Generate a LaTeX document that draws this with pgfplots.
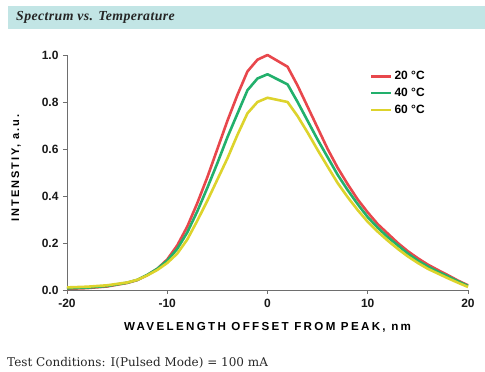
\documentclass[border=0pt]{standalone}
\usepackage{pgfplots}
\pgfplotsset{compat=1.18}
\usepackage{fontspec}
\setmainfont{Liberation Sans}
\newfontfamily\serifT{Liberation Serif}
\newfontfamily\serifD{DejaVu Serif}
\definecolor{cred}{HTML}{E8474C}
\definecolor{cgreen}{HTML}{22B06C}
\definecolor{cyellow}{HTML}{DDD32C}
\definecolor{bar}{HTML}{C2E5E5}
\definecolor{axgray}{HTML}{6E6E6E}
\begin{document}
\begin{tikzpicture}
\path[use as bounding box] (0pt,0pt) rectangle (485pt,372pt);
\fill[bar] (8pt,343pt) rectangle (485pt,366pt);
\node[anchor=west,inner sep=0pt,text=black!85] at (16pt,354.5pt) {\serifT\bfseries\itshape\fontsize{13.8}{15}\selectfont\addfontfeature{LetterSpace=3}Spectrum vs. Temperature};
\node[anchor=west,inner sep=0pt,text=black!85] at (7pt,9pt) {\serifD\fontsize{12}{14}\selectfont Test Conditions: I(Pulsed Mode) = 100 mA};
\begin{axis}[
  at={(67pt,82pt)}, anchor=south west,
  scale only axis, width=401pt, height=235pt,
  xmin=-20, xmax=20, ymin=0, ymax=1,
  axis x line*=bottom, axis y line*=left,
  axis line style={axgray, line width=0.9pt, -},
  tick style={axgray, line width=0.9pt},
  tick align=outside, major tick length=4pt,
  xtick={-20,-10,0,10,20}, xticklabels={-20,-10,0,10,20},
  ytick={0,0.2,0.4,0.6,0.8,1.0}, yticklabels={0.0,0.2,0.4,0.6,0.8,1.0},
  /pgf/number format/assume math mode=true,
  ticklabel style={font=\bfseries\fontsize{12}{13}\selectfont, text=black!90},
  xticklabel style={yshift=-2pt},
  yticklabel style={xshift=-1pt},
  xlabel={\addfontfeature{LetterSpace=20}WAVELENGTH OFFSET FROM PEAK, nm},
  ylabel={\addfontfeature{LetterSpace=18}INTENSTIY, a.u.},
  xlabel style={font=\bfseries\fontsize{11.6}{12}\selectfont, at={(axis description cs:0.5,-0.157)}, anchor=center},
  ylabel style={font=\bfseries\fontsize{11}{12}\selectfont, at={(axis description cs:-0.127,0.52)}, anchor=center},
  legend style={at={(rel axis cs:0.755,0.94)}, anchor=north west, draw=none, fill=none,
    font=\bfseries\fontsize{12}{13}\selectfont, row sep=3pt, inner sep=0pt},
  legend cell align=left,
  legend image code/.code={\draw[#1, line width=2.6pt] (0pt,0pt) -- (20pt,0pt);},
  every axis plot/.append style={line width=2.6pt, line join=round},
  clip=false,
]
\addplot[cred] coordinates {
(-20,0.005) (-18,0.008) (-16,0.015) (-14,0.03) (-13,0.042) (-12,0.063) (-11,0.09) (-10,0.13)
(-9,0.19) (-8,0.27) (-7,0.37) (-6,0.48) (-5,0.60) (-4,0.72) (-3,0.83) (-2,0.93) (-1,0.98) (0,1.0)
(2,0.95) (3,0.87) (4,0.78) (5,0.69) (6,0.60) (7,0.52) (8,0.45) (9,0.385) (10,0.33) (11,0.28)
(12,0.24) (13,0.2) (14,0.165) (15,0.135) (16,0.108) (17,0.085) (18,0.063) (19,0.04) (20,0.02)};
\addlegendentry{20 °C}
\addplot[cgreen] coordinates {
(-20,0.007) (-18,0.01) (-16,0.017) (-14,0.031) (-13,0.043) (-12,0.064) (-11,0.09) (-10,0.125)
(-9,0.175) (-8,0.245) (-7,0.335) (-6,0.435) (-5,0.54) (-4,0.65) (-3,0.75) (-2,0.85) (-1,0.90) (0,0.918)
(2,0.875) (3,0.80) (4,0.72) (5,0.64) (6,0.565) (7,0.49) (8,0.425) (9,0.365) (10,0.31) (11,0.265)
(12,0.225) (13,0.19) (14,0.155) (15,0.125) (16,0.1) (17,0.078) (18,0.058) (19,0.037) (20,0.017)};
\addlegendentry{40 °C}
\addplot[cyellow] coordinates {
(-20,0.011) (-18,0.014) (-16,0.02) (-14,0.032) (-13,0.043) (-12,0.062) (-11,0.085) (-10,0.115)
(-9,0.155) (-8,0.215) (-7,0.295) (-6,0.38) (-5,0.47) (-4,0.56) (-3,0.66) (-2,0.752) (-1,0.80) (0,0.818)
(2,0.80) (3,0.74) (4,0.67) (5,0.596) (6,0.525) (7,0.455) (8,0.395) (9,0.34) (10,0.29) (11,0.248)
(12,0.21) (13,0.175) (14,0.143) (15,0.115) (16,0.09) (17,0.07) (18,0.05) (19,0.031) (20,0.013)};
\addlegendentry{60 °C}
\end{axis}
\end{tikzpicture}
\end{document}
